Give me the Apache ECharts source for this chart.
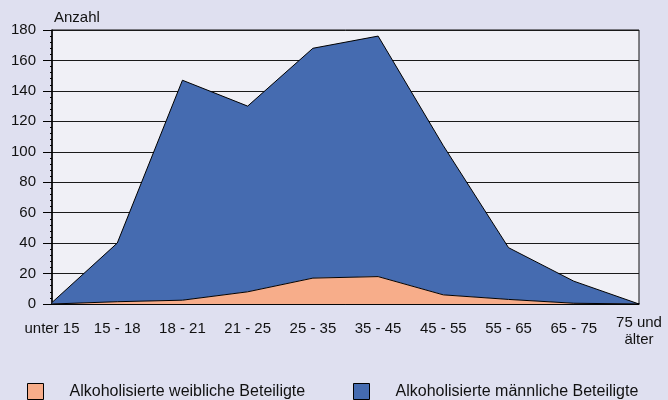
<!DOCTYPE html>
<html>
<head>
<meta charset="utf-8">
<script src="https://cdn.jsdelivr.net/npm/echarts@6/dist/echarts.min.js"></script>
<style>
  html, body { margin: 0; padding: 0; background: #dfe0f0; }
  #chart { width: 668px; height: 400px; }
</style>
</head>
<body>
<div id="chart"></div>
<script>
// Altersgruppen
const categories = ['unter 15', '15 - 18', '18 - 21', '21 - 25', '25 - 35', '35 - 45', '45 - 55', '55 - 65', '65 - 75', '75 und\nälter']
// weibliche Beteiligte (unten)
const female = [0, 1.5, 2.5, 8, 17, 18, 6, 3, 0.5, 0]
// männliche Beteiligte (gestapelt auf weiblich)
const male = [1, 38.5, 144.5, 122, 151, 158, 98, 34, 14.5, 0]
const yTicks = { min: 0, max: 180, interval: 20 }

const chart = echarts.init(document.getElementById('chart'))

const legendBase = {
  top: 378,
  itemWidth: 16,
  itemHeight: 16,
  icon: 'rect',
  itemStyle: { borderColor: '#000', borderWidth: 1 },
  textStyle: {
    fontFamily: 'Liberation Sans, Arial, sans-serif',
    fontSize: 16,
    color: '#111',
    padding: [0, 0, 0, 21]
  }
}

// letzte Kategorie ist zweizeilig und sitzt etwas höher
const xData = categories.map((c, i) =>
  i === categories.length - 1 ? { value: c, textStyle: { padding: [-6, 0, 0, 0] } } : c
)

const option = {
  backgroundColor: '#dfe0f0',
  animation: false,
  textStyle: { fontFamily: 'Liberation Sans, Arial, sans-serif' },
  legend: [
    Object.assign({}, legendBase, { left: 22, data: ['Alkoholisierte weibliche Beteiligte'] }),
    Object.assign({}, legendBase, { left: 348, data: ['Alkoholisierte männliche Beteiligte'] })
  ],
  grid: {
    left: 52,
    right: 29,
    top: 30,
    bottom: 96,
    show: true,
    backgroundColor: '#f0f0f6',
    borderColor: '#111',
    borderWidth: 1
  },
  xAxis: {
    type: 'category',
    data: xData,
    boundaryGap: false,
    axisLine: { lineStyle: { color: '#000', width: 1.5 } },
    axisTick: { show: false },
    axisLabel: {
      interval: 0,
      color: '#111',
      fontSize: 15,
      margin: 16,
      lineHeight: 17
    }
  },
  yAxis: {
    type: 'value',
    min: yTicks.min,
    max: yTicks.max,
    interval: yTicks.interval,
    name: 'Anzahl',
    nameLocation: 'end',
    nameGap: 5,
    nameTextStyle: { color: '#111', fontSize: 15, align: 'left', padding: [0, 0, 0, 2] },
    axisLine: { show: true, lineStyle: { color: '#000', width: 1.5 } },
    axisTick: { show: true, length: 9, inside: false, lineStyle: { color: '#000' } },
    minorTick: { show: true, splitNumber: 5, length: 2, lineStyle: { color: '#000' } },
    axisLabel: { color: '#111', fontSize: 15, margin: 16 },
    splitLine: { show: true, lineStyle: { color: '#1a1a1a', width: 1 } }
  },
  series: [
    {
      name: 'Alkoholisierte weibliche Beteiligte',
      type: 'line',
      stack: 'total',
      data: female,
      symbol: 'none',
      lineStyle: { color: '#000', width: 1 },
      itemStyle: { color: '#f7ad8a' },
      areaStyle: { color: '#f7ad8a', opacity: 1 },
      z: 3
    },
    {
      name: 'Alkoholisierte männliche Beteiligte',
      type: 'line',
      stack: 'total',
      data: male,
      symbol: 'none',
      lineStyle: { color: '#000', width: 1 },
      itemStyle: { color: '#456bb0' },
      areaStyle: { color: '#456bb0', opacity: 1 },
      z: 2
    }
  ]
}

chart.setOption(option)
</script>
</body>
</html>
